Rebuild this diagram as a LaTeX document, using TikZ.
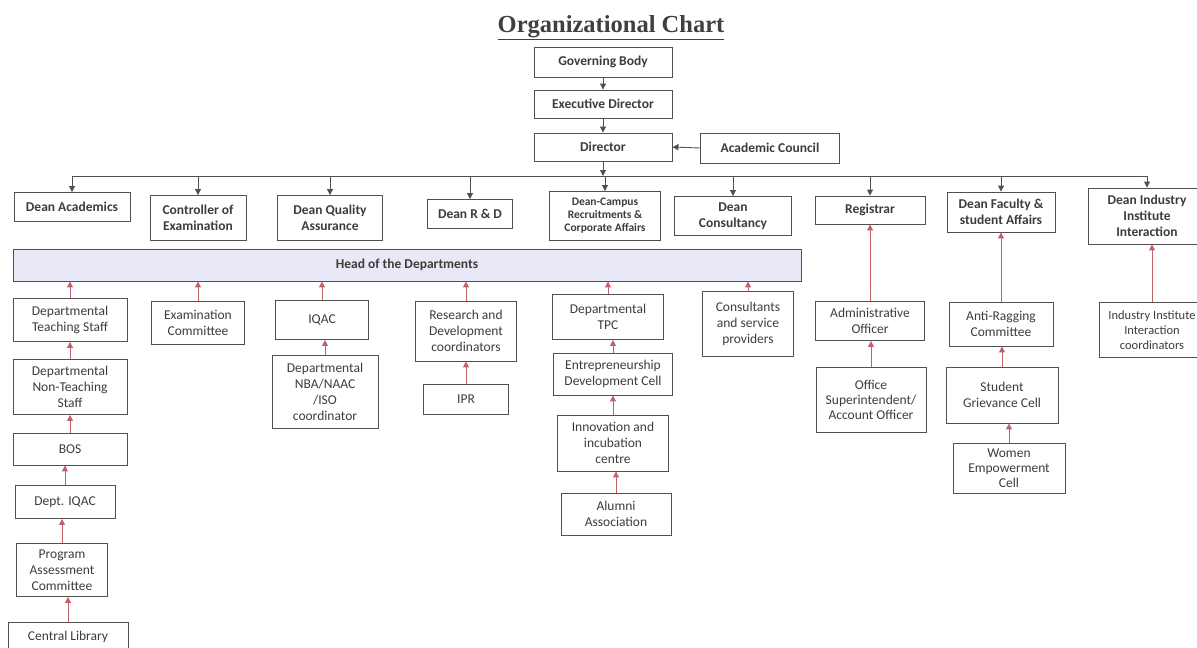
\documentclass[tikz,border=0pt]{standalone}
\usepackage{fontspec}
\setmainfont{Carlito}
\newfontfamily\titlefont{Liberation Serif}
\usetikzlibrary{arrows.meta}
\definecolor{boxline}{RGB}{80,80,80}
\definecolor{boxtext}{RGB}{60,60,60}
\definecolor{uparrow}{RGB}{196,96,106}
\definecolor{headfill}{RGB}{232,232,246}
\begin{document}
\begin{tikzpicture}[x=1pt, y=-1pt,
% common options for the boxes:
box/.style = {draw=boxline, line width=0.9pt, align=center, text=boxtext,
            inner sep=2pt, font=\fontsize{13.5}{16}\selectfont},
% boxes of the dean level use bold text:
dean/.style = {box, font=\fontsize{13.5}{16}\selectfont\bfseries},
% common options for the arrows:
down/.style = {draw=boxline, line width=0.9pt, -{Triangle[length=6pt,width=6pt]}},
up/.style = {draw=uparrow, line width=1pt, -{Triangle[length=6pt,width=6pt]}}]
\useasboundingbox (0,0) rectangle (1197,648);
\node[font=\titlefont\fontsize{24.5}{28}\selectfont\bfseries, text=black!75] (T0) at (611,28) {\underline{Organizational Chart}};
% top of the chart
\node[dean, minimum width=138pt, minimum height=30pt] (G0) at (603,62) {Governing Body};
\node[dean, minimum width=138pt, minimum height=28pt] (G1) at (603,104) {Executive Director};
\node[dean, minimum width=138pt, minimum height=28pt] (G2) at (603,147) {Director};
\node[dean, minimum width=139pt, minimum height=30pt] (G3) at (770,148) {Academic Council};
\coordinate (bus) at (603,176);
% deans
\node[dean, minimum width=116pt, minimum height=29pt] (D1) at (72,207) {Dean Academics};
\node[dean, minimum width=96pt, minimum height=45pt] (D2) at (198,218) {Controller of\\Examination};
\node[dean, minimum width=105pt, minimum height=45pt] (D3) at (330,218) {Dean Quality\\Assurance};
\node[dean, minimum width=85pt, minimum height=29pt] (D4) at (470,214) {Dean R \& D};
\node[dean, minimum width=111pt, minimum height=49pt, font=\fontsize{11.5}{13}\selectfont\bfseries] (D5) at (605,216) {Dean-Campus\\Recruitments \&\\Corporate Affairs};
\node[dean, minimum width=117pt, minimum height=39pt] (D6) at (733,216) {Dean\\Consultancy};
\node[dean, minimum width=110pt, minimum height=28pt] (D7) at (870,210) {Registrar};
\node[dean, minimum width=108pt, minimum height=40pt] (D8) at (1001,212) {Dean Faculty \&\\student Affairs};
\node[dean, minimum width=118pt, minimum height=56pt] (D9) at (1147,216) {Dean Industry\\Institute\\Interaction};
\node[dean, fill=headfill, minimum width=788pt, minimum height=32pt] (H0) at (407,265) {Head of the Departments};
% under the heads of departments
\node[box, minimum width=114pt, minimum height=43pt] (A1) at (70,320) {Departmental\\Teaching Staff};
\node[box, minimum width=114pt, minimum height=55pt] (A2) at (70,387) {Departmental\\Non-Teaching\\Staff};
\node[box, minimum width=114pt, minimum height=32pt] (A3) at (70,449) {BOS};
\node[box, minimum width=100pt, minimum height=33pt] (A4) at (65,502) {Dept. IQAC};
\node[box, minimum width=91pt, minimum height=53pt] (A5) at (62,570) {Program\\Assessment\\Committee};
\node[box, minimum width=120pt, minimum height=30pt] (A6) at (68,637) {Central Library};
\node[box, minimum width=93pt, minimum height=43pt] (B1) at (198,323) {Examination\\Committee};
\node[box, minimum width=93pt, minimum height=39pt] (C1) at (322,320) {IQAC};
\node[box, minimum width=106pt, minimum height=73pt] (C2) at (325,392) {Departmental\\NBA/NAAC\\/ISO\\coordinator};
\node[box, minimum width=101pt, minimum height=60pt] (E1) at (466,331) {Research and\\Development\\coordinators};
\node[box, minimum width=85pt, minimum height=30pt] (E2) at (466,399) {IPR};
\node[box, minimum width=111pt, minimum height=45pt] (F1) at (608,317) {Departmental\\TPC};
\node[box, minimum width=119pt, minimum height=42pt] (F2) at (613,374) {Entrepreneurship\\Development Cell};
\node[box, minimum width=111pt, minimum height=56pt] (F3) at (613,443) {Innovation and\\incubation\\centre};
\node[box, minimum width=110pt, minimum height=42pt] (F4) at (616,514) {Alumni\\Association};
\node[box, minimum width=91pt, minimum height=65pt] (I1) at (748,324) {Consultants\\and service\\providers};
% under registrar and deans on the right
\node[box, minimum width=109pt, minimum height=39pt] (R1) at (870,321) {Administrative\\Officer};
\node[box, minimum width=110pt, minimum height=65pt, font=\fontsize{13.5}{15}\selectfont] (R2) at (871,400) {Office\\Superintendent/\\Account Officer};
\node[box, minimum width=104pt, minimum height=44pt] (S1) at (1001,324) {Anti-Ragging\\Committee};
\node[box, minimum width=112pt, minimum height=56pt] (S2) at (1002,395) {Student\\Grievance Cell};
\node[box, minimum width=112pt, minimum height=50pt, font=\fontsize{13.5}{15}\selectfont] (S3) at (1009,468) {Women\\Empowerment\\Cell};
\node[box, minimum width=106pt, minimum height=55pt, font=\fontsize{12.5}{15}\selectfont] (N1) at (1152,330) {Industry Institute\\Interaction\\coordinators};
% arrows going down
\draw[down] (G0.south) to (G1.north);
\draw[down] (G1.south) to (G2.north);
\draw[down] (G3.west) to (G2.east);
\draw[down] (G2.south) to (bus);
\draw[boxline, line width=0.9pt] (D1.north |- bus) to (D9.north |- bus);
\draw[down] (D1.north |- bus) to (D1.north);
\draw[down] (D2.north |- bus) to (D2.north);
\draw[down] (D3.north |- bus) to (D3.north);
\draw[down] (D4.north |- bus) to (D4.north);
\draw[down] (D5.north |- bus) to (D5.north);
\draw[down] (D6.north |- bus) to (D6.north);
\draw[down] (D7.north |- bus) to (D7.north);
\draw[down] (D8.north |- bus) to (D8.north);
\draw[down] (D9.north |- bus) to (D9.north);
% arrows going up
\draw[up] (A1.north) to (A1.north |- H0.south);
\draw[up] (A2.north) to (A2.north |- A1.south);
\draw[up] (A3.north) to (A3.north |- A2.south);
\draw[up] (A4.north) to (A4.north |- A3.south);
\draw[up] (A5.north) to (A5.north |- A4.south);
\draw[up] (A6.north) to (A6.north |- A5.south);
\draw[up] (B1.north) to (B1.north |- H0.south);
\draw[up] (C1.north) to (C1.north |- H0.south);
\draw[up] (C2.north) to (C2.north |- C1.south);
\draw[up] (E1.north) to (E1.north |- H0.south);
\draw[up] (E2.north) to (E2.north |- E1.south);
\draw[up] (F1.north) to (F1.north |- H0.south);
\draw[up] (F2.north) to (F2.north |- F1.south);
\draw[up] (F3.north) to (F3.north |- F2.south);
\draw[up] (F4.north) to (F4.north |- F3.south);
\draw[up] (I1.north) to (I1.north |- H0.south);
\draw[up] (R1.north) to (R1.north |- D7.south);
\draw[up] (R2.north) to (R2.north |- R1.south);
\draw[up] (S1.north) to (S1.north |- D8.south);
\draw[up] (S2.north) to (S2.north |- S1.south);
\draw[up] (S3.north) to (S3.north |- S2.south);
\draw[up] (N1.north) to (N1.north |- D9.south);
\end{tikzpicture}
\end{document}
